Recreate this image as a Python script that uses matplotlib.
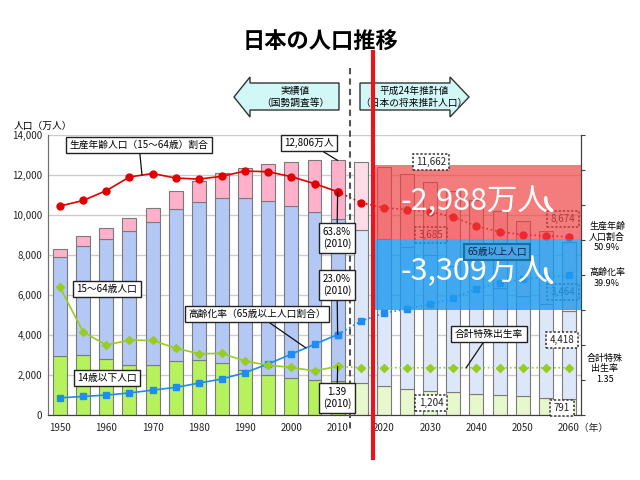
import matplotlib.pyplot as plt
from matplotlib.patches import Polygon, Rectangle, FancyArrowPatch
from matplotlib.lines import Line2D
from matplotlib.transforms import ScaledTranslation

plt.rcParams['font.family'] = ['Noto Sans CJK JP', 'DejaVu Sans']

# data (万人, %)
years = list(range(1950, 2061, 5))
pop_0_14 = [2943, 2980, 2807, 2517, 2482, 2722, 2751, 2603, 2249, 2001, 1847, 1752,
            1680, 1583, 1457, 1324, 1204, 1129, 1073, 1012, 939, 861, 791]
pop_15_64 = [4966, 5473, 6000, 6693, 7157, 7581, 7883, 8251, 8590, 8716, 8622, 8409,
             8103, 7682, 7341, 7085, 6773, 6343, 5787, 5353, 5001, 4706, 4418]
pop_65 = [411, 475, 535, 618, 733, 887, 1065, 1247, 1489, 1826, 2204, 2576,
          2948, 3395, 3612, 3657, 3685, 3741, 3868, 3856, 3768, 3626, 3464]
ratio_15_64 = [59.7, 61.3, 64.1, 68.0, 69.0, 67.7, 67.4, 68.2, 69.7, 69.5, 68.1, 66.1,
               63.8, 60.7, 59.2, 58.7, 58.1, 56.6, 53.9, 52.4, 51.5, 51.2, 50.9]
ratio_65 = [4.9, 5.3, 5.7, 6.3, 7.1, 7.9, 9.1, 10.3, 12.1, 14.6, 17.4, 20.2,
            23.0, 26.8, 29.1, 30.3, 31.6, 33.4, 36.1, 37.7, 38.8, 39.4, 39.9]
tfr = [3.65, 2.37, 2.00, 2.14, 2.13, 1.91, 1.75, 1.76, 1.54, 1.42, 1.36, 1.26,
       1.39, 1.35, 1.35, 1.35, 1.35, 1.35, 1.35, 1.35, 1.35, 1.35, 1.35]
last_actual = 2010
xtick_years = list(range(1950, 2061, 10))
xtick_labels = [str(y) for y in xtick_years[:-1]] + ['2060（年）']

W, H = 640, 480


def fp(x, y):
    # pixel from top-left -> figure fraction
    return x / W, 1 - y / H


fig = plt.figure(figsize=(6.4, 4.8), dpi=100)
ax = fig.add_axes([48 / W, 1 - 415 / H, 533 / W, 280 / H])
ax2 = ax.twinx()

actual = [y <= last_actual for y in years]
col_g = ['#B6F25E' if a else '#E7F8CC' for a in actual]
col_b = ['#B4C8F6' if a else '#DDE7FA' for a in actual]
col_p = ['#FFB1CB' if a else '#FCDDE7' for a in actual]
bottom_p = [a + b for a, b in zip(pop_0_14, pop_15_64)]

bkw = dict(width=3.0, edgecolor='#7A7A7A', linewidth=0.8, zorder=2)
ax.bar(years, pop_0_14, color=col_g, **bkw)
ax.bar(years, pop_15_64, bottom=pop_0_14, color=col_b, **bkw)
ax.bar(years, pop_65, bottom=bottom_p, color=col_p, **bkw)

ax.set_xlim(1947.4, 2062.6)
ax.set_ylim(0, 14000)
ax.set_yticks(range(0, 14001, 2000))
ax.set_yticklabels([f'{v:,}' for v in range(0, 14001, 2000)])
ax.set_xticks(xtick_years)
ax.set_xticklabels(xtick_labels)
ax.yaxis.grid(True, color='#CCCCCC', lw=1)
ax.set_axisbelow(True)
ax.tick_params(axis='both', length=0, labelsize=7, colors='#222222')
ax.tick_params(axis='x', pad=6)
ax.tick_params(axis='y', pad=4)
lbl = ax.get_xticklabels()[-1]
lbl.set_transform(lbl.get_transform() + ScaledTranslation(14 / 100, 0, fig.dpi_scale_trans))

for a in (ax, ax2):
    a.spines['top'].set_visible(False)
    a.spines['left'].set_color('#707070')
    a.spines['bottom'].set_color('#404040')
    a.spines['right'].set_color('#404040')

ax2.set_ylim(0, 80)
ax2.set_yticks(range(0, 81, 10))
ax2.set_yticklabels([])
ax2.tick_params(axis='y', direction='out', length=3, color='#404040')

# ratio lines: solid for actual, dotted for projection
i = years.index(last_actual)
tfr10 = [v * 10 for v in tfr]
for vals, c, m, ms in [(ratio_15_64, '#E00000', 'o', 5),
                       (ratio_65, '#1E8CF0', 's', 4.5),
                       (tfr10, '#99CC22', 'D', 4.5)]:
    ax2.plot(years[:i + 1], vals[:i + 1], color=c, lw=1.2, marker=m, ms=ms, zorder=3)
    ax2.plot(years[i:], vals[i:], color=c, lw=1.2, ls=':', marker=m, ms=ms, zorder=3)

# dashed boxes (some under the overlays)
def dbox(txt, x, y, fc='white', color='#222222', z=8):
    ax2.text(*fp(x, y), txt, transform=fig.transFigure, ha='center', va='center',
             fontsize=7, color=color, zorder=z,
             bbox=dict(boxstyle='square,pad=0.35', fc=fc, ec='#333333',
                       ls=(0, (1.5, 1.2)), lw=1.1))


dbox('11,662', 431, 162)
dbox('3,685', 431, 235, fc='none', z=4)
dbox('8,674', 563, 219, fc='none', z=4)
dbox('3,464', 563, 292, fc='none', z=4)
dbox('4,418', 562, 340)
dbox('791', 562, 408)
dbox('1,204', 431, 403)

# overlays
x0 = 2018.1
ax2.add_patch(Rectangle((x0, 8800), 2062.6 - x0, 3700, transform=ax.transData,
                        fc='#EE4040', alpha=0.68, lw=0, zorder=5))
ax2.add_patch(Rectangle((x0, 5250), 2062.6 - x0, 3550, transform=ax.transData,
                        fc='#1E9BEF', alpha=0.82, lw=0, zorder=5))
ax2.text(2039.6, 10650, '-2,988万人', transform=ax.transData, ha='center', va='center',
         fontsize=22, color='white', zorder=7)
ax2.text(2039.6, 7150, '-3,309万人', transform=ax.transData, ha='center', va='center',
         fontsize=22, color='white', zorder=7)
ax2.text(*fp(497, 252), '65歳以上人口', transform=fig.transFigure, ha='center', va='center',
         fontsize=7, color='#102040', zorder=8,
         bbox=dict(boxstyle='square,pad=0.35', fc='#44A6E6', ec='#1A6FA0', lw=1.5))
for a, b in [((546, 195), (554, 212)), ((546, 266), (554, 284))]:
    fig.add_artist(FancyArrowPatch(fp(*a), fp(*b), transform=fig.transFigure,
                                   connectionstyle='arc3,rad=0.35', arrowstyle='-',
                                   color='white', lw=2.5, zorder=15))

# solid annotation boxes
sbox = dict(boxstyle='square,pad=0.35', fc='white', ec='#222222', lw=1)
lead = dict(arrowstyle='-', color='#111111', lw=0.9, shrinkA=0, shrinkB=0)


def note(txt, xy, xyc, pos, ha='center'):
    ax2.annotate(txt, xy=xy, xycoords=xyc, xytext=(pos[0], H - pos[1]),
                 textcoords='figure pixels', ha=ha, va='center', fontsize=7,
                 linespacing=1.2, bbox=sbox, arrowprops=lead, zorder=9)


note('生産年齢人口（15～64歳）割合', (142, H - 175), 'figure pixels', (139, 145))
note('12,806万人', (last_actual, bottom_p[i] + pop_65[i]), ax.transData, (309, 143))
note('63.8%\n(2010)', (last_actual, ratio_15_64[i]), 'data', (337, 238))
note('23.0%\n(2010)', (last_actual, ratio_65[i]), 'data', (337, 285))
note('1.39\n(2010)', (last_actual, tfr10[i]), 'data', (337, 398))
note('高齢化率（65歳以上人口割合）', (306, H - 348), 'figure pixels', (257, 314))
note('合計特殊出生率', (466, H - 368), 'figure pixels', (489, 334))
ax2.text(*fp(107, 289), '15～64歳人口', transform=fig.transFigure, ha='center',
         va='center', fontsize=7, bbox=sbox, zorder=9)
ax2.text(*fp(107, 378), '14歳以下人口', transform=fig.transFigure, ha='center',
         va='center', fontsize=7, bbox=sbox, zorder=9)

# dashed divider between actual and projection
ax2.add_line(Line2D([350 / W] * 2, [1 - 68 / H, 1 - 432 / H], transform=fig.transFigure,
                    color='#555555', lw=1.5, ls=(0, (3, 2)), clip_on=False, zorder=4))

# red divider
fig.add_artist(Line2D([373 / W] * 2, [1 - 52 / H, 1 - 458 / H], color='#E8141E', lw=3,
                      zorder=20))

# top arrows
left_arrow = [(234, 97), (250, 77), (250, 83), (339, 83), (339, 110), (250, 110), (250, 117)]
right_arrow = [(469, 97), (450, 77), (450, 83), (360, 83), (360, 110), (450, 110), (450, 117)]
for pts in (left_arrow, right_arrow):
    fig.add_artist(Polygon([fp(*p) for p in pts], closed=True, transform=fig.transFigure,
                           fc='#D2F7F7', ec='#333333', lw=1, zorder=2))
fig.text(*fp(295, 97), '実績値\n（国勢調査等）', ha='center', va='center', fontsize=7,
         linespacing=1.25, zorder=3)
fig.text(*fp(414, 97), '平成24年推計値\n（日本の将来推計人口）', ha='center', va='center',
         fontsize=7, linespacing=1.25, zorder=3)

# titles and side labels
fig.text(*fp(320, 42), '日本の人口推移', ha='center', va='center', fontsize=16,
         fontweight='bold')
fig.text(*fp(14, 126), '人口（万人）', ha='left', va='center', fontsize=7)
fig.text(*fp(607, 237), '生産年齢\n人口割合\n50.9%', ha='center', va='center', fontsize=6.5,
         linespacing=1.2)
fig.text(*fp(607, 278), '高齢化率\n39.9%', ha='center', va='center', fontsize=6.5,
         linespacing=1.2)
fig.text(*fp(605, 369), '合計特殊\n出生率\n1.35', ha='center', va='center', fontsize=6.5,
         linespacing=1.2)

fig.savefig('out.png', dpi=100)
